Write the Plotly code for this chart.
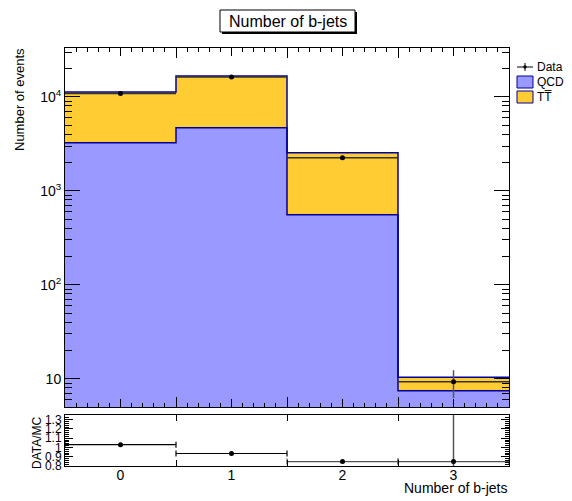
import numpy as np
import plotly.graph_objects as go

# ---- histogram content -------------------------------------------------
bin_labels = ["0", "1", "2", "3"]
bin_centers = [0, 1, 2, 3]
bin_edges = [-0.5, 0.5, 1.5, 2.5, 3.5]

qcd = [3240, 4680, 556, 7.45]
ttbar = [8060, 12020, 1984, 2.95]
data = [10870, 16300, 2250, 9.3]
data_err = [104, 128, 47, 3.05]

ratio = [1.03, 0.935, 0.848, 0.848]
ratio_err = [0.01, 0.008, 0.02, 0.6]

# ---- style -------------------------------------------------------------
W, H = 572, 501
FONT = "Liberation Sans, Arial, Helvetica, sans-serif"
QCD_FILL = "#9999ff"
TT_FILL = "#ffcc33"
OUTLINE = "#000099"

# frame positions in pixels
X0, X1 = 65, 509
MAIN_T, MAIN_B = 48, 407
RAT_T, RAT_B = 415, 466


def px(x):
    return x / W


def py(y):
    return 1 - y / H


total = [q + t for q, t in zip(qcd, ttbar)]

fig = go.Figure()

# stacked MC
fig.add_trace(go.Bar(x=bin_centers, y=qcd, width=1, marker=dict(color=QCD_FILL, line=dict(width=0)),
                     name="QCD", xaxis="x", yaxis="y"))
fig.add_trace(go.Bar(x=bin_centers, y=ttbar, width=1, marker=dict(color=TT_FILL, line=dict(width=0)),
                     name="TT", xaxis="x", yaxis="y"))

# step outlines of the stack
for vals in (qcd, total):
    fig.add_trace(go.Scatter(x=bin_edges, y=list(vals) + [vals[-1]], mode="lines",
                             line=dict(shape="hv", color=OUTLINE, width=1.5),
                             xaxis="x", yaxis="y", hoverinfo="skip"))

# data points
fig.add_trace(go.Scatter(x=bin_centers, y=data, mode="markers",
                         marker=dict(color="black", size=5),
                         error_x=dict(type="constant", value=0.5, width=0, thickness=1.5, color="#333333"),
                         error_y=dict(type="data", array=data_err, width=0, thickness=1.5, color="#555555"),
                         xaxis="x", yaxis="y"))

# ratio panel
for sl, col in ((slice(0, 2), "black"), (slice(2, 4), "#555555")):
    fig.add_trace(go.Scatter(x=bin_centers[sl], y=ratio[sl], mode="markers",
                             marker=dict(color="black", size=5),
                             error_x=dict(type="constant", value=0.5, width=3, thickness=1.2, color=col),
                             error_y=dict(type="data", array=ratio_err[sl], width=0, thickness=1.5, color="#555555"),
                             xaxis="x2", yaxis="y2", cliponaxis=True))

xdom = [px(X0), px(X1)]
minor_x = [round(v, 2) for v in np.arange(-0.4, 3.5, 0.1)]
minor_log = [m * 10 ** k for k in range(0, 5) for m in range(2, 10)]

axis_common = dict(showline=True, linecolor="black", linewidth=1, mirror="ticks",
                   ticks="inside", tickcolor="black", showgrid=False, zeroline=False,
                   tickfont=dict(family=FONT, size=14, color="black"))

fig.update_layout(
    width=W, height=H,
    margin=dict(l=0, r=0, t=0, b=0, autoexpand=False),
    paper_bgcolor="white", plot_bgcolor="white",
    barmode="stack", bargap=0, showlegend=False,
    font=dict(family=FONT, color="black"),
    xaxis=dict(axis_common, domain=xdom, anchor="y", range=[-0.5, 3.5],
               tickvals=bin_edges, ticklen=10, showticklabels=False,
               minor=dict(tickvals=minor_x, ticks="inside", ticklen=4, tickcolor="black")),
    yaxis=dict(axis_common, domain=[py(MAIN_B), py(MAIN_T)], anchor="x", type="log",
               range=[0.70, 4.52], tickvals=[10, 100, 1000, 10000],
               ticktext=["10", "10<sup>2</sup>", "10<sup>3</sup>", "10<sup>4</sup>"],
               ticklen=15,
               minor=dict(tickvals=minor_log, ticks="inside", ticklen=7, tickcolor="black")),
    xaxis2=dict(axis_common, domain=xdom, anchor="y2", range=[-0.5, 3.5],
                tickvals=bin_centers, ticktext=bin_labels, ticklen=0, ticklabelstandoff=-4,
                minor=dict(tickvals=[0.5, 1.5, 2.5], ticks="inside", ticklen=6, tickcolor="black")),
    yaxis2=dict(axis_common, domain=[py(RAT_B), py(RAT_T)], anchor="x2", range=[0.8, 1.35],
                tickvals=[0.8, 0.9, 1.0, 1.1, 1.2, 1.3],
                ticktext=["0.8", "0.9", "1", "1.1", "1.2", "1.3"],
                tickfont=dict(family=FONT, size=12, color="black"), ticklen=8,
                minor=dict(dtick=0.02, ticks="inside", ticklen=4, tickcolor="black")),
)

shapes = []
# medium ticks at the bin centres, top and bottom of the main frame
for c in bin_centers:
    shapes.append(dict(type="line", xref="x", yref="y domain", x0=c, x1=c, y0=1, y1=1 - 8 / (MAIN_B - MAIN_T),
                       line=dict(color="black", width=1)))
    shapes.append(dict(type="line", xref="x", yref="y domain", x0=c, x1=c, y0=0, y1=8 / (MAIN_B - MAIN_T),
                       line=dict(color="black", width=1)))

# title box with drop shadow
bx0, bx1, by0, by1 = 220, 355, 10, 32
shapes.append(dict(type="rect", xref="paper", yref="paper", x0=px(bx0 + 2), x1=px(bx1 + 2),
                   y0=py(by1 + 2), y1=py(by0 + 2), fillcolor="black", line=dict(width=0), layer="above"))
shapes.append(dict(type="rect", xref="paper", yref="paper", x0=px(bx0), x1=px(bx1),
                   y0=py(by1), y1=py(by0), fillcolor="white", line=dict(color="black", width=1), layer="above"))

# legend symbols
lx0, lx1 = 517, 533
shapes.append(dict(type="line", xref="paper", yref="paper", x0=px(lx0), x1=px(lx1), y0=py(67), y1=py(67),
                   line=dict(color="black", width=1)))
shapes.append(dict(type="line", xref="paper", yref="paper", x0=px(525), x1=px(525), y0=py(63), y1=py(71),
                   line=dict(color="black", width=1)))
shapes.append(dict(type="circle", xref="paper", yref="paper", x0=px(523.3), x1=px(526.7), y0=py(68.7), y1=py(65.3),
                   fillcolor="black", line=dict(width=0)))
for yc, col in ((82, QCD_FILL), (97, TT_FILL)):
    shapes.append(dict(type="rect", xref="paper", yref="paper", x0=px(lx0), x1=px(lx1),
                       y0=py(yc + 6), y1=py(yc - 6), fillcolor=col, line=dict(color=OUTLINE, width=1)))
fig.update_layout(shapes=shapes)

ann = [
    dict(text="Number of b-jets", x=px((bx0 + bx1) / 2), y=py((by0 + by1) / 2), xref="paper", yref="paper",
         showarrow=False, font=dict(size=16, family=FONT), xanchor="center", yanchor="middle"),
    dict(text="Data", x=px(535), y=py(67), xref="paper", yref="paper", showarrow=False,
         font=dict(size=12, family=FONT), xanchor="left", yanchor="middle"),
    dict(text="QCD", x=px(535), y=py(82), xref="paper", yref="paper", showarrow=False,
         font=dict(size=12, family=FONT), xanchor="left", yanchor="middle"),
    dict(text="TT\u0305", x=px(535), y=py(97), xref="paper", yref="paper", showarrow=False,
         font=dict(size=12, family=FONT), xanchor="left", yanchor="middle"),
    dict(text="Number of events", x=px(20), y=py(100), xref="paper", yref="paper", showarrow=False,
         textangle=-90, font=dict(size=13, family=FONT), xanchor="center", yanchor="middle"),
    dict(text="DATA/MC", x=px(37), y=py(443), xref="paper", yref="paper", showarrow=False,
         textangle=-90, font=dict(size=12, family=FONT), xanchor="center", yanchor="middle"),
    dict(text="Number of b-jets", x=px(X1), y=py(488), xref="paper", yref="paper", showarrow=False,
         font=dict(size=14, family=FONT), xanchor="right", yanchor="middle"),
]
fig.update_layout(annotations=ann)

fig.write_html("out.html")
